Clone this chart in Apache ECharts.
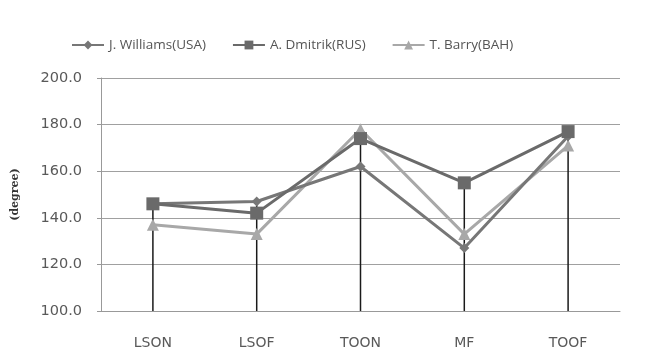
<!DOCTYPE html>
<html>
<head>
<meta charset="utf-8">
<script src="https://cdn.jsdelivr.net/npm/echarts@6/dist/echarts.min.js"></script>
<style>html,body{margin:0;padding:0;background:#fff}#c{width:647px;height:363px}</style>
</head>
<body>
<div id="c"></div>
<script>
var categories = ['LSON', 'LSOF', 'TOON', 'MF', 'TOOF'];
var seriesNames = ['J. Williams(USA)', 'A. Dmitrik(RUS)', 'T. Barry(BAH)'];
var williams = [146, 147, 162, 127, 175];
var dmitrik = [146, 142, 174, 155, 177];
var barry = [137, 133, 178, 133, 171];
var yTicks = [100, 120, 140, 160, 180, 200];
var yAxisTitle = '(degree)';

var dropLines = categories.map(function (c, i) {
  return Math.max(williams[i], dmitrik[i], barry[i]);
});

var chart = echarts.init(document.getElementById('c'), null, {renderer: 'canvas'});
var font = '"Open Sans", sans-serif';
var axisFont = '"DejaVu Sans", sans-serif';
chart.setOption({
  animation: false,
  backgroundColor: '#fff',
  legend: {
    data: seriesNames,
    left: 66,
    top: 33,
    itemWidth: 32,
    itemHeight: 11,
    itemGap: 26,
    textStyle: {fontFamily: font, fontSize: 13.5, color: '#555'}
  },
  grid: {left: 101, right: 27, top: 78, bottom: 52},
  xAxis: {
    type: 'category',
    data: categories,
    boundaryGap: true,
    axisLine: {lineStyle: {color: '#999', width: 1}},
    axisTick: {show: false},
    axisLabel: {fontFamily: axisFont, fontSize: 14, color: '#595959', margin: 25}
  },
  yAxis: {
    type: 'value',
    min: yTicks[0],
    max: yTicks[yTicks.length - 1],
    interval: 20,
    name: yAxisTitle,
    nameLocation: 'middle',
    nameGap: 80,
    nameRotate: 90,
    nameTextStyle: {fontFamily: '"DejaVu Serif", "Liberation Serif", serif', fontWeight: 'bold', fontSize: 11, color: '#333'},
    axisLine: {show: true, lineStyle: {color: '#999'}},
    axisTick: {show: true, length: 4, lineStyle: {color: '#999'}},
    splitLine: {lineStyle: {color: '#a0a0a0', width: 1.2}},
    axisLabel: {fontFamily: axisFont, fontSize: 14.5, color: '#595959', margin: 19,
      formatter: function (v) { return v.toFixed(1); }}
  },
  series: [
    {
      name: 'drop', type: 'bar', data: dropLines, barWidth: 1.5, z: 1,
      itemStyle: {color: '#1a1a1a'}, silent: true
    },
    {
      name: seriesNames[0], type: 'line', data: williams, z: 3,
      symbol: 'diamond', symbolSize: 10,
      lineStyle: {color: '#777', width: 3},
      itemStyle: {color: '#777'}
    },
    {
      name: seriesNames[1], type: 'line', data: dmitrik, z: 4,
      symbol: 'rect', symbolSize: 13,
      lineStyle: {color: '#6a6a6a', width: 3},
      itemStyle: {color: '#6a6a6a'}
    },
    {
      name: seriesNames[2], type: 'line', data: barry, z: 2,
      symbol: 'triangle', symbolSize: 12,
      lineStyle: {color: '#a8a8a8', width: 3},
      itemStyle: {color: '#a8a8a8'}
    }
  ]
});
</script>
</body>
</html>
